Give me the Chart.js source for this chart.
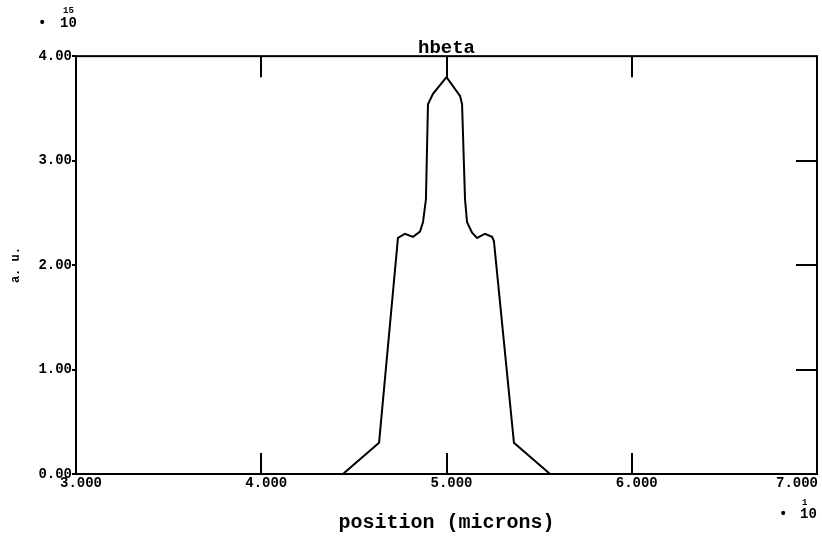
<!DOCTYPE html>
<html>
<head>
<meta charset="utf-8">
<script src="https://cdn.jsdelivr.net/npm/chart.js"></script>
<style>
  html, body { margin: 0; padding: 0; background: #fff; }
  #wrap { width: 822px; height: 542px; }
</style>
</head>
<body>
<div id="wrap"><canvas id="hbetaChart" width="822" height="542"></canvas></div>
<script>
// position in units of 10^1 microns, intensity in units of 10^15 a.u.
const positions = [4.441, 4.636, 4.738, 4.776, 4.819, 4.857, 4.873, 4.889, 4.900, 4.927, 5.000,
                   5.073, 5.084, 5.100, 5.111, 5.138, 5.165, 5.208, 5.246, 5.256, 5.364, 5.559];
const intensity = [0.00, 0.30, 2.26, 2.30, 2.27, 2.32, 2.41, 2.63, 3.54, 3.64, 3.80,
                   3.62, 3.54, 2.63, 2.41, 2.31, 2.26, 2.30, 2.27, 2.23, 0.30, 0.00];
const xTicks = [3, 4, 5, 6, 7];
const yTicks = [0, 1, 2, 3, 4];

const FONT = "'Liberation Mono', 'Courier New', monospace";

// frame, inside tick marks, x tick labels and exponent markers
const axisDecor = {
    id: 'axisDecor',
    afterDatasetsDraw(chart) {
        const ctx = chart.ctx;
        const a = chart.chartArea;
        const xs = chart.scales.x, ys = chart.scales.y;
        ctx.save();
        ctx.strokeStyle = '#000';
        ctx.lineWidth = 2;
        ctx.strokeRect(a.left, a.top, a.right - a.left, a.bottom - a.top);

        ctx.beginPath();
        xTicks.slice(1, -1).forEach(v => {
            const px = Math.round(xs.getPixelForValue(v));
            ctx.moveTo(px, a.top); ctx.lineTo(px, a.top + 21);
            ctx.moveTo(px, a.bottom); ctx.lineTo(px, a.bottom - 21);
        });
        yTicks.slice(1, -1).forEach(v => {
            const py = Math.round(ys.getPixelForValue(v));
            ctx.moveTo(a.right, py); ctx.lineTo(a.right - 21, py);
        });
        ctx.stroke();

        ctx.fillStyle = '#000';
        ctx.font = 'bold 14px ' + FONT;
        ctx.textBaseline = 'middle';
        xTicks.forEach((v, i) => {
            const px = xs.getPixelForValue(v);
            if (i === xTicks.length - 1) {
                ctx.textAlign = 'right';
                ctx.fillText(v.toFixed(3), a.right + 1, a.bottom + 9);
            } else {
                ctx.textAlign = 'center';
                ctx.fillText(v.toFixed(3), px + 5, a.bottom + 9);
            }
        });

        // exponent markers
        ctx.textAlign = 'left';
        ctx.font = 'bold 14px ' + FONT;
        ctx.fillText('•', 38, 23);
        ctx.fillText('10', 60, 23);
        ctx.font = 'bold 9px ' + FONT;
        ctx.fillText('15', 63, 11);
        ctx.font = 'bold 14px ' + FONT;
        ctx.fillText('•', 779, 514);
        ctx.fillText('10', 800, 514);
        ctx.font = 'bold 9px ' + FONT;
        ctx.fillText('1', 802, 503);
        ctx.restore();
    }
};

new Chart(document.getElementById('hbetaChart'), {
    type: 'scatter',
    data: {
        datasets: [{
            label: 'hbeta',
            data: positions.map((x, i) => ({ x: x, y: intensity[i] })),
            showLine: true,
            borderColor: '#000',
            borderWidth: 2,
            pointRadius: 0,
            tension: 0
        }]
    },
    options: {
        responsive: false,
        animation: false,
        layout: { padding: { left: 0, right: 5, top: 0, bottom: 0 } },
        plugins: {
            legend: { display: false },
            tooltip: { enabled: false },
            title: {
                display: true,
                fullSize: false,
                text: 'hbeta',
                color: '#000',
                font: { family: FONT, size: 19, weight: 'bold', lineHeight: 0.85 },
                padding: { top: 40, bottom: 0 }
            }
        },
        scales: {
            x: {
                type: 'linear',
                min: 3, max: 7,
                afterFit: s => { s.height = 68; },
                grid: { display: false },
                border: { display: false },
                ticks: { display: false, stepSize: 1 },
                title: {
                    display: true,
                    text: 'position (microns)',
                    color: '#000',
                    font: { family: FONT, size: 20, weight: 'bold', lineHeight: 1.2 },
                    padding: { top: 0, bottom: 7 }
                }
            },
            y: {
                min: 0, max: 4,
                afterFit: s => { s.width = 76; },
                grid: { drawOnChartArea: false, drawTicks: true, tickLength: 4, color: '#000', lineWidth: 2 },
                border: { display: false },
                ticks: {
                    stepSize: 1,
                    padding: 0,
                    color: '#000',
                    font: { family: FONT, size: 14, weight: 'bold' },
                    callback: v => v.toFixed(2)
                },
                title: {
                    display: true,
                    text: 'a. u.',
                    color: '#000',
                    font: { family: FONT, size: 12, weight: 'bold', lineHeight: 1.2 },
                    padding: { top: 9, bottom: 0 }
                }
            }
        }
    },
    plugins: [axisDecor]
});
</script>
</body>
</html>
